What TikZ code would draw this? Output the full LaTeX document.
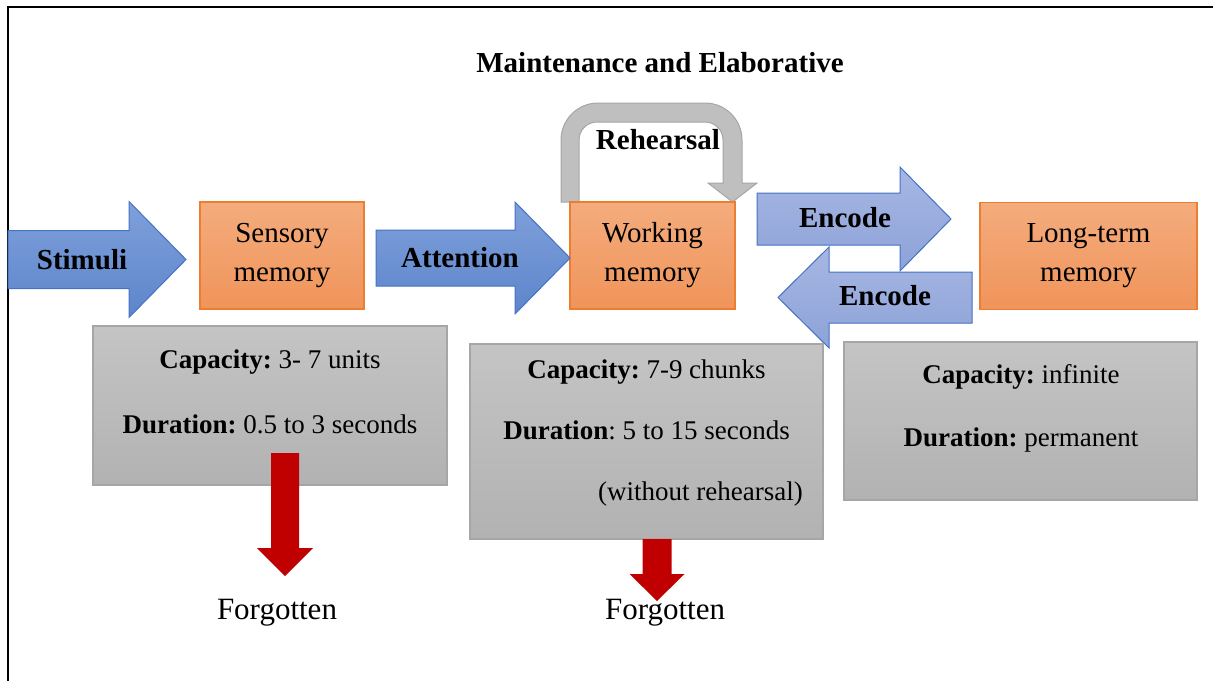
\documentclass[tikz,border=0pt]{standalone}
\usepackage{fontspec}
\setmainfont{Liberation Serif}
\frenchspacing

\definecolor{orangetop}{HTML}{F4AC7D}
\definecolor{orangebot}{HTML}{F0945A}
\definecolor{orangeline}{HTML}{ED7D31}
\definecolor{bluetop}{HTML}{7FA0DA}
\definecolor{bluebot}{HTML}{5D85CC}
\definecolor{paletop}{HTML}{A7B7E3}
\definecolor{palebot}{HTML}{8DA2D8}
\definecolor{blueline}{HTML}{4472C4}
\definecolor{graytop}{HTML}{C4C4C4}
\definecolor{graybot}{HTML}{B2B2B2}
\definecolor{grayline}{HTML}{A6A6A6}
\definecolor{loopgray}{HTML}{BFBFBF}
\definecolor{forgetred}{HTML}{C00000}

\tikzset{
  memorybox/.style={draw=orangeline, line width=0.6pt, top color=orangetop, bottom color=orangebot,
    inner sep=0pt, minimum height=53.5pt, align=center, font=\fontsize{14.5}{19.5}\selectfont},
  infobox/.style={draw=grayline, line width=0.6pt, top color=graytop, bottom color=graybot, inner sep=0pt},
  infotext/.style={align=center, inner sep=0pt},
  boldlabel/.style={font=\fontsize{14.5}{17}\selectfont\bfseries, inner sep=0pt},
  flowarrow/.style={draw=blueline, line width=0.5pt, top color=bluetop, bottom color=bluebot},
  encodearrow/.style={draw=blueline, line width=0.5pt, top color=paletop, bottom color=palebot},
  loopband/.style={draw=grayline, line width=0.5pt, fill=loopgray},
  forgetarrow/.style={fill=forgetred},
  forgetlabel/.style={font=\fontsize{15.5}{18}\selectfont, inner sep=0pt}
}

% #1 style, #2 tail x, #3 head base x, #4 tip x, #5 mid y, #6 half body, #7 half head
\newcommand{\blockarrow}[7]{%
  \draw[#1] (#2,#5-#6) -- (#3,#5-#6) -- (#3,#5-#7) -- (#4,#5) -- (#3,#5+#7)
    -- (#3,#5+#6) -- (#2,#5+#6) -- cycle;}
% #1 x, #2 top y, #3 head base y, #4 tip y, #5 half shaft, #6 half head
\newcommand{\dropblock}[6]{%
  \fill[forgetarrow] (#1-#5,#2) -- (#1-#5,#3) -- (#1-#6,#3) -- (#1,#4) -- (#1+#6,#3)
    -- (#1+#5,#3) -- (#1+#5,#2) -- cycle;}

\begin{document}
\begin{tikzpicture}[x=0.5pt, y=-0.5pt]
  \useasboundingbox (0,0) rectangle (1213,680);
  \draw[line width=1pt] (8,681) -- (8,7) -- (1214,7);

  \node[boldlabel] (title) at (660,63) {Maintenance and Elaborative};

  % rehearsal loop over working memory
  \draw[loopband] (561,202) -- (561,140) arc[start angle=180, end angle=270, radius=37]
    -- (705,103) arc[start angle=270, end angle=360, radius=37] -- (742,183) -- (757,183)
    -- (732.5,202) -- (708,183) -- (723,183) -- (723,140)
    arc[start angle=0, end angle=-90, radius=18] -- (597,122)
    arc[start angle=270, end angle=180, radius=18] -- (579,202) -- cycle;

  \node[memorybox, minimum width=82pt] (sensory) at (282,255.5) {Sensory\\memory};
  \node[memorybox, minimum width=82.5pt] (working) at (652.5,255.5) {Working\\memory};
  \node[memorybox, minimum width=108.5pt] (longterm) at (1088.5,256) {Long-term\\memory};

  \blockarrow{flowarrow}{8}{129}{186}{259.5}{29}{58}
  \blockarrow{flowarrow}{376}{515}{570}{258}{28}{56}
  \blockarrow{encodearrow}{757}{900}{951}{219}{26}{52}
  \blockarrow{encodearrow}{972}{829}{778}{297.5}{25.5}{50.5}

  \node[boldlabel] (stimuli) at (82,260) {Stimuli};
  \node[boldlabel] (attention) at (460,258) {Attention};
  \node[boldlabel] (rehearsal) at (658,140) {Rehearsal};
  \node[boldlabel] (encodeto) at (845,218) {Encode};
  \node[boldlabel] (encodefrom) at (885,296) {Encode};

  \node[infobox, minimum width=177pt, minimum height=79.5pt] (sensoryinfo) at (270,405.5) {};
  \node[infobox, minimum width=176.5pt, minimum height=97.5pt] (workinginfo) at (646.5,441.5) {};
  \node[infobox, minimum width=176.5pt, minimum height=79pt] (longterminfo) at (1020.5,421) {};

  \node[infotext, font=\fontsize{13.5}{32.5}\selectfont] (sensoryfacts) at (270,391.5)
    {\textbf{Capacity:} 3- 7 units\\\textbf{Duration:} 0.5 to 3 seconds};
  \node[infotext, font=\fontsize{13.5}{30.5}\selectfont] (workingfacts) at (646.5,433)
    {\textbf{Capacity:} 7-9 chunks\\\textbf{Duration}: 5 to 15 seconds\\\hspace*{54pt}(without rehearsal)};
  \node[infotext, font=\fontsize{13.5}{31.5}\selectfont] (longtermfacts) at (1021,408.5)
    {\textbf{Capacity:} infinite\\\textbf{Duration:} permanent};

  \dropblock{285}{453}{548}{576}{14}{28}
  \dropblock{657}{539}{574}{601}{14.5}{27.5}

  \node[forgetlabel] (forgotsensory) at (277,613) {Forgotten};
  \node[forgetlabel] (forgotworking) at (665,613) {Forgotten};
\end{tikzpicture}
\end{document}
